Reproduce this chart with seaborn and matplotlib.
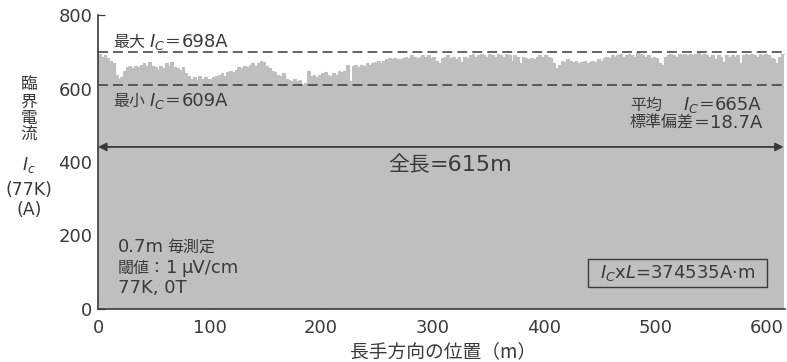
import numpy as np
import pandas as pd
import matplotlib
matplotlib.use("Agg")
import matplotlib.pyplot as plt
import seaborn as sns
from matplotlib.offsetbox import TextArea, HPacker, DrawingArea, AnnotationBbox
from matplotlib.patches import Rectangle

# Critical current Ic (A) along the tape, sampled every 2.5 m from 0 to 615 m
position_step_m = 2.5
ic_values = [
    693, 686, 690, 683, 676, 669, 637, 627, 630, 648, 658, 662, 655, 660, 658, 665, 669, 662, 672, 662,
    658, 651, 662, 655, 669, 662, 672, 658, 655, 651, 658, 641, 634, 627, 630, 623, 634, 627, 630, 625,
    627, 630, 634, 637, 641, 634, 644, 648, 646, 651, 658, 655, 662, 658, 665, 669, 662, 669, 676, 672,
    662, 655, 648, 644, 637, 634, 641, 627, 623, 620, 625, 620, 623, 609, 616, 648, 634, 637, 630, 637,
    641, 644, 637, 634, 641, 637, 648, 644, 648, 665, 620, 662, 665, 658, 665, 662, 669, 665, 669, 672,
    676, 669, 676, 679, 683, 679, 683, 681, 679, 683, 686, 683, 690, 686, 683, 686, 690, 686, 690, 683,
    686, 676, 669, 683, 686, 690, 683, 686, 679, 686, 672, 686, 683, 690, 693, 686, 690, 693, 690, 686,
    693, 690, 686, 693, 690, 686, 693, 690, 676, 690, 686, 669, 686, 683, 679, 683, 681, 686, 690, 686,
    690, 686, 683, 669, 655, 665, 676, 672, 679, 676, 672, 676, 669, 672, 676, 669, 672, 676, 672, 679,
    676, 683, 686, 683, 690, 686, 690, 693, 686, 690, 693, 690, 686, 698, 693, 690, 686, 690, 683, 686,
    683, 669, 665, 686, 690, 693, 690, 686, 693, 690, 693, 690, 693, 690, 693, 697, 690, 693, 690, 686,
    690, 679, 690, 686, 672, 690, 686, 690, 686, 690, 669, 690, 693, 690, 693, 690, 686, 693, 690, 693,
    690, 683, 679, 669, 686, 693, 693,
]
x_ticks = [0, 100, 200, 300, 400, 500, 600]
y_ticks = [0, 200, 400, 600, 800]

ic_max = 698
ic_min = 609
ic_mean = 665
ic_std = 18.7
total_length_m = 615
ic_times_length = 374535

sns.set_style("ticks")
JP = "Noto Sans CJK JP"
LAT = "DejaVu Sans"
plt.rcParams["font.family"] = [LAT, JP]
INK = "#3a3a3a"
FILL = "#bdbfc1"
FS_JP = 11.5
FS_LAT = 13

df = pd.DataFrame({
    "pos": np.arange(len(ic_values)) * position_step_m,
    "ic": ic_values,
})

W, H = 787, 362
fig = plt.figure(figsize=(W / 100, H / 100), dpi=100)
ax = fig.add_axes([98 / W, 1 - 309 / H, (784.8 - 98) / W, (309 - 15) / H])

# Ic profile as a filled step area
ax.fill_between(df["pos"], df["ic"], step="post", color=FILL, lw=0, zorder=1)
sns.lineplot(data=df, x="pos", y="ic", drawstyle="steps-post", color=FILL,
             lw=0.8, ax=ax, zorder=1)

# Max / min reference lines
dash = (0, (6.5, 3.3))
ax.axhline(ic_max, color=INK, lw=1.1, ls=dash, zorder=3)
ax.axhline(ic_min, color=INK, lw=1.1, ls=dash, zorder=3)

ax.set_xlim(0, 616)
ax.set_ylim(0, 800)
ax.set_xticks(x_ticks)
ax.set_yticks(y_ticks)
ax.set_xlabel("")
ax.set_ylabel("")
sns.despine(ax=ax)
for side in ("left", "bottom"):
    ax.spines[side].set_color(INK)
    ax.spines[side].set_linewidth(1.2)
    ax.spines[side].set_zorder(4)
ax.tick_params(direction="in", length=5, width=0.9, colors=INK, labelsize=FS_LAT)
ax.tick_params(axis="y", pad=4)
ax.tick_params(axis="x", pad=7)


def jp(s, size=FS_JP):
    return TextArea(s, textprops=dict(color=INK, family=JP, fontsize=size))


def lat(s, size=FS_LAT):
    return TextArea(s, textprops=dict(color=INK, family=LAT, fontsize=size))


def gap(w):
    return DrawingArea(w, 0)


def rich(xy, parts, align=(0, 0.5), coords="data"):
    pack = HPacker(children=parts, align="baseline", pad=0, sep=0)
    ab = AnnotationBbox(pack, xy, xycoords=coords, box_alignment=align,
                        frameon=False, pad=0, zorder=6)
    ax.add_artist(ab)
    return ab


rich((13.5, 726), [jp("最大"), gap(3), lat("$I_C$"), jp("＝"), lat(f"{ic_max}A")])
rich((13.5, 566), [jp("最小"), gap(3), lat("$I_C$"), jp("＝"), lat(f"{ic_min}A")])
rich((477, 555), [jp("平均"), gap(15), lat("$I_C$"), jp("＝"), lat(f"{ic_mean}A")])
rich((477, 506), [jp("標準偏差"), jp("＝"), lat(f"{ic_std}A")])

# Total length arrow
ax.annotate("", xy=(0, 441), xytext=(total_length_m, 441),
            arrowprops=dict(arrowstyle="<|-|>", color=INK, lw=1.3,
                            shrinkA=0, shrinkB=0, mutation_scale=12),
            zorder=5)
rich((316, 392), [jp("全長", 15), lat(f"={total_length_m}m", 16)], align=(0.5, 0.5))

rich((18, 169), [lat("0.7m"), gap(2), jp("毎測定")])
rich((18, 112), [jp("閾値："), lat("1"), gap(3), lat("μV/cm")])
rich((18, 57), [lat("77K, 0T")])

# Ic x L framed note
ax.add_patch(Rectangle((439.5, 60), 160.5, 76, fill=False, ec=INK, lw=1.0, zorder=5))
rich((520, 98), [lat(f"$I_C$x$L$={ic_times_length}A·m")], align=(0.5, 0.5))

# Stacked vertical y-axis label
fig.text(29 / W, 1 - 110 / H, "臨\n界\n電\n流", ha="center", va="center",
         color=INK, family=JP, fontsize=12, linespacing=0.93)
for s, py in [("$I_c$", 165), ("(77K)", 190), ("(A)", 210)]:
    fig.text(29 / W, 1 - py / H, s, ha="center", va="center",
             color=INK, family=LAT, fontsize=12.5)

fig.text(443 / W, 1 - 352 / H, "長手方向の位置（m）", ha="center", va="center",
         color=INK, family=JP, fontsize=13.5)

fig.savefig("out.png", dpi=100)
